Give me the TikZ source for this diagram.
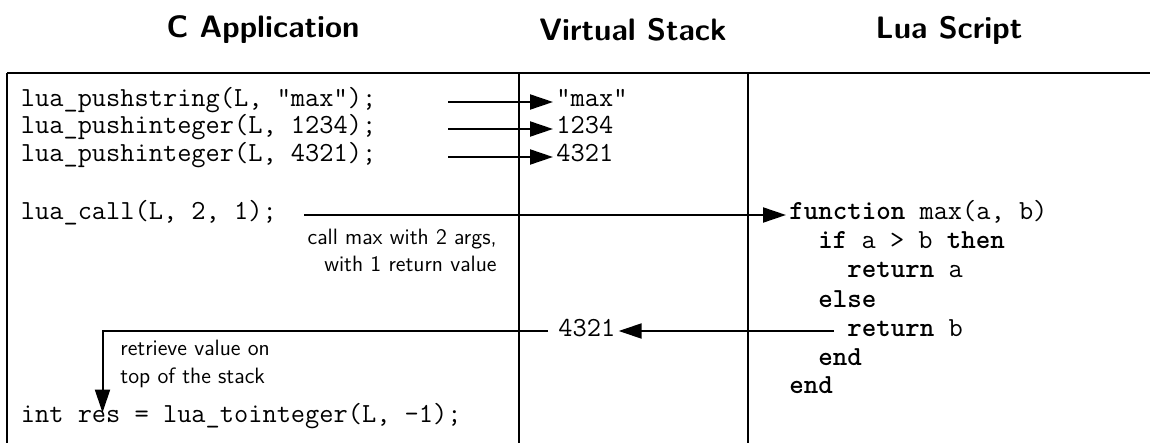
\documentclass[tikz,border=0pt]{standalone}
\usepackage{fontspec}
\usetikzlibrary{arrows.meta}

\newcommand{\codefont}{\fontsize{13.8}{14.4}\selectfont\ttfamily}
\newcommand{\notefont}{\fontsize{11.1}{12.5}\selectfont\sffamily}
\newcommand{\headfont}{\fontsize{15.5}{18}\selectfont\sffamily\bfseries}

\tikzset{
  code/.style={font=\codefont, anchor=west, inner xsep=1.5pt, inner ysep=0pt,
    text height=.7em, text depth=.2em},
  note/.style={font=\notefont, inner sep=0pt, text height=.7em, text depth=.15em},
  head/.style={font=\headfont, inner sep=0pt},
  rule/.style={line width=1pt},
  flow/.style={line width=1pt, -{Triangle[length=11.5pt,width=7.5pt]}},
}

\begin{document}
\begin{tikzpicture}[x=0.5pt,y=-0.5pt]
  \useasboundingbox (0,0) rectangle (1150,443);

  \node[head] (happ) at (263,30) {C Application};
  \node[head] (hstack) at (633,30) {Virtual Stack};
  \node[head] (hlua) at (949,30) {Lua Script};

  \draw[rule, line width=1.3pt] (7,73) -- (1150,73);
  \draw[rule] (7,73) -- (7,443);
  \draw[rule] (519,73) -- (519,443);
  \draw[rule] (748,73) -- (748,443);

  \node[code] (push1) at (17.5,102) {lua\_pushstring(L, "max");};
  \node[code] (push2) at (17.5,129) {lua\_pushinteger(L, 1234);};
  \node[code] (push3) at (17.5,157) {lua\_pushinteger(L, 4321);};
  \node[code] (call) at (17.5,215) {lua\_call(L, 2, 1);};
  \node[code] (res) at (17.5,417) {int res = lua\_tointeger(L, -1);};

  \node[code] (val1) at (553,102) {"max"};
  \node[code] (val2) at (553,129) {1234};
  \node[code] (val3) at (553,157) {4321};
  \node[code] (ret) at (555,331) {4321};

  \node[code] (fn) at (786,215) {\textbf{function} max(a, b)};
  \node[code] (lif) at (815,244) {\textbf{if} a > b \textbf{then}};
  \node[code] (reta) at (844,273) {\textbf{return} a};
  \node[code] (lelse) at (815,302) {\textbf{else}};
  \node[code] (retb) at (844,331) {\textbf{return} b};
  \node[code] (lend1) at (815,360) {\textbf{end}};
  \node[code] (lend2) at (786,388) {\textbf{end}};

  \node[note, anchor=east] (callnote1) at (497,239) {call max with 2 args,};
  \node[note, anchor=east] (callnote2) at (497,266) {with 1 return value};
  \node[note, anchor=west] (getnote1) at (120,350) {retrieve value on};
  \node[note, anchor=west] (getnote2) at (120,378) {top of the stack};

  \draw[flow] ([xshift=-52.5pt]val1.west) -- (val1.west);
  \draw[flow] ([xshift=-52.5pt]val2.west) -- (val2.west);
  \draw[flow] ([xshift=-52.5pt]val3.west) -- (val3.west);
  \draw[flow] ([xshift=12pt]call.east) -- (fn.west);
  \draw[flow] ([xshift=-5pt]retb.west) -- (ret.east);
  \draw[flow] ([xshift=-3.5pt]ret.west) -| ([xshift=42.5pt,yshift=-2.5pt]res.north west);
\end{tikzpicture}
\end{document}
